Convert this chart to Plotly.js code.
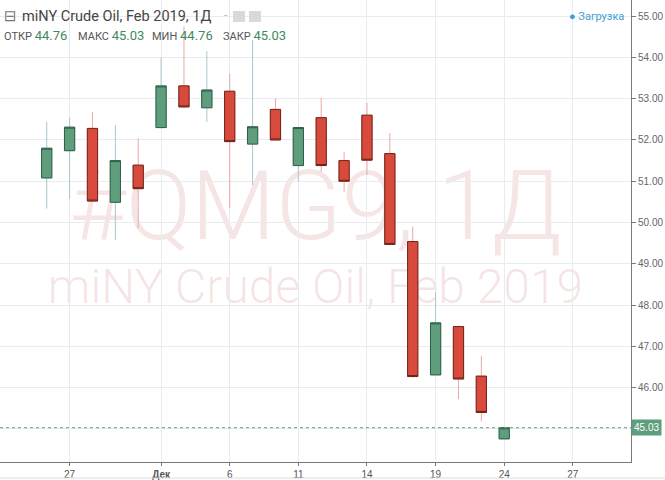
<!DOCTYPE html>
<html>
<head>
<meta charset="utf-8">
<script src="https://cdn.plot.ly/plotly-3.0.1.min.js"></script>
<style>html,body{margin:0;padding:0;background:#fff;}#chart{width:665px;height:480px;}</style>
</head>
<body>
<div id="chart"></div>
<script>
// ---- data ----
const dates = ['2018-11-26','2018-11-27','2018-11-28','2018-11-29','2018-11-30',
  '2018-12-03','2018-12-04','2018-12-05','2018-12-06','2018-12-07',
  '2018-12-10','2018-12-11','2018-12-12','2018-12-13','2018-12-14',
  '2018-12-17','2018-12-18','2018-12-19','2018-12-20','2018-12-21','2018-12-24'];
const openP  = [51.08,51.74,52.28,50.49,51.39,52.30,53.31,52.78,53.18,51.90,52.74,51.38,52.54,51.50,52.60,51.67,49.54,46.31,47.48,46.28,44.76];
const highP  = [52.44,52.54,52.68,52.36,52.04,54.00,54.75,54.15,53.61,54.42,53.01,52.32,53.02,51.71,52.90,52.17,49.90,48.32,47.50,46.77,45.03];
const lowP   = [50.34,50.57,50.50,49.58,49.87,52.28,52.77,52.44,50.35,50.91,51.98,50.99,51.23,50.74,51.15,49.45,46.24,46.30,45.72,45.18,44.76];
const closeP = [51.80,52.31,50.52,51.50,50.82,53.31,52.80,53.21,51.96,52.32,52.00,52.30,51.38,51.00,51.51,49.47,46.27,47.57,46.21,45.40,45.03];

const xTickVals = ['2018-11-27','2018-12-03','2018-12-06','2018-12-11','2018-12-14','2018-12-19','2018-12-24','2018-12-27'];
const xTickText = ['27','<b>Дек</b>','6','11','14','19','24','27'];
const yTickVals = [45,46,47,48,49,50,51,52,53,54,55];
const yTickText = ['','46.00','47.00','48.00','49.00','50.00','51.00','52.00','53.00','54.00','55.00'];

const titleText = 'miNY Crude Oil, Feb 2019, 1Д';
const watermark1 = '#QMG9, 1Д';
const watermark2 = 'miNY Crude Oil, Feb 2019';
const ohlcLabels = ['ОТКР','МАКС','МИН','ЗАКР'];
const statusText = '● Загрузка';

// ---- styles ----
const UP_FILL = '#5e9e7c', UP_LINE = '#2f5e45';
const DN_FILL = '#d84a3b', DN_LINE = '#6e2219';
const UP_WICK = '#a9c6cf', DN_WICK = '#eaa9a3';
const GRID = '#e8ecef', AXIS = '#7a7a7a';
const W = 631, H = 462;

const bodyHigh = openP.map((o, i) => Math.max(o, closeP[i]));
const bodyLow  = openP.map((o, i) => Math.min(o, closeP[i]));
const last = closeP.length - 1;

const wicks = {
  type: 'candlestick', x: dates, open: openP, high: highP, low: lowP, close: closeP,
  increasing: {line: {color: UP_WICK, width: 1}, fillcolor: 'rgba(0,0,0,0)'},
  decreasing: {line: {color: DN_WICK, width: 1}, fillcolor: 'rgba(0,0,0,0)'},
  hoverinfo: 'skip', showlegend: false
};
const bodies = {
  type: 'candlestick', x: dates, open: openP, high: bodyHigh, low: bodyLow, close: closeP,
  increasing: {line: {color: UP_LINE, width: 1}, fillcolor: UP_FILL},
  decreasing: {line: {color: DN_LINE, width: 1}, fillcolor: DN_FILL},
  hoverinfo: 'skip', showlegend: false
};

const px = v => v / W;
const py = v => 1 - v / H;

const ohlcVals = [openP[last], highP[last], lowP[last], closeP[last]];
const ohlcX = [2, 76, 150, 221];
const ohlcAnn = ohlcLabels.map((lab, i) => ({
  xref: 'paper', yref: 'paper', x: px(ohlcX[i]), y: py(35), xanchor: 'left', yanchor: 'middle',
  showarrow: false,
  text: lab + ' <span style="color:#3f8a60;font-size:13px">' + ohlcVals[i].toFixed(2) + '</span>',
  font: {family: 'Roboto, Liberation Sans, sans-serif', size: 11, color: '#555'}
}));

const layout = {
  width: 665, height: 480,
  margin: {l: 0, r: 34, t: 0, b: 18},
  paper_bgcolor: '#fff', plot_bgcolor: '#fff',
  showlegend: false, hovermode: false, boxgap: 0.36,
  xaxis: {
    type: 'date',
    range: ['2018-11-21 23:00', '2018-12-31 13:00'],
    rangebreaks: [{bounds: ['sat', 'mon']}],
    rangeslider: {visible: false},
    tickmode: 'array', tickvals: xTickVals, ticktext: xTickText,
    showgrid: true, gridcolor: GRID, gridwidth: 1,
    showline: true, linecolor: AXIS, linewidth: 1,
    ticks: 'outside', ticklen: 3, tickcolor: AXIS,
    tickfont: {family: 'Liberation Sans, Arial, sans-serif', size: 10, color: '#555'},
    zeroline: false, fixedrange: true
  },
  yaxis: {
    side: 'right',
    range: [44.20, 55.39],
    tickmode: 'array', tickvals: yTickVals, ticktext: yTickText,
    showgrid: true, gridcolor: GRID, gridwidth: 1,
    showline: true, linecolor: AXIS, linewidth: 1,
    ticks: 'outside', ticklen: 4, tickcolor: AXIS,
    tickfont: {family: 'Liberation Sans, Arial, sans-serif', size: 10, color: '#666'},
    zeroline: false, fixedrange: true
  },
  shapes: [
    {type: 'rect', xref: 'paper', yref: 'paper', x0: 0, x1: 1, y0: py(252), y1: py(146),
     line: {width: 0}, fillcolor: 'rgba(0,0,0,0)', layer: 'below',
     label: {text: watermark1, textposition: 'middle center',
             font: {family: 'Roboto, sans-serif', size: 97, weight: 300, color: 'rgba(200,115,115,0.19)'}}},
    {type: 'rect', xref: 'paper', yref: 'paper', x0: 0, x1: 1, y0: py(308), y1: py(258),
     line: {width: 0}, fillcolor: 'rgba(0,0,0,0)', layer: 'below',
     label: {text: watermark2, textposition: 'middle center',
             font: {family: 'Roboto, sans-serif', size: 48, weight: 300, color: 'rgba(200,115,115,0.19)'}}},
    {type: 'line', xref: 'paper', yref: 'y', x0: 0, x1: 1, y0: closeP[last], y1: closeP[last],
     line: {color: UP_FILL, width: 1, dash: 'dot'}, layer: 'above'},
    {type: 'rect', xref: 'paper', yref: 'paper', x0: px(233), x1: px(245), y0: py(22), y1: py(11),
     line: {width: 0}, fillcolor: '#d9d9d9'},
    {type: 'rect', xref: 'paper', yref: 'paper', x0: px(249), x1: px(261), y0: py(22), y1: py(11),
     line: {width: 0}, fillcolor: '#d9d9d9'},
    {type: 'line', xref: 'paper', yref: 'paper', x0: 0, x1: 665 / W, y0: py(478), y1: py(478),
     line: {color: '#dddddd', width: 1}}
  ],
  annotations: [
    {xref: 'paper', yref: 'paper', x: px(2), y: py(16.5), xanchor: 'left', yanchor: 'middle',
     showarrow: false, text: '⊟', font: {family: 'DejaVu Sans', size: 15, color: '#777'}},
    {xref: 'paper', yref: 'paper', x: px(20), y: py(16.5), xanchor: 'left', yanchor: 'middle',
     showarrow: false, text: titleText, font: {family: 'Roboto, Liberation Sans, sans-serif', size: 14.5, color: '#454545'}},
    {xref: 'paper', yref: 'paper', x: px(222), y: py(15), xanchor: 'left', yanchor: 'middle',
     showarrow: false, text: '-', font: {family: 'Roboto, sans-serif', size: 12, color: '#bbb'}},
    {xref: 'paper', yref: 'paper', x: px(626), y: py(16.5), xanchor: 'right', yanchor: 'middle',
     showarrow: false, text: statusText, font: {family: 'Roboto, Liberation Sans, sans-serif', size: 11, color: '#41a0d2'}},
    ...ohlcAnn,
    {xref: 'paper', yref: 'y', x: 1, y: closeP[last], xanchor: 'left', yanchor: 'middle',
     showarrow: false, text: closeP[last].toFixed(2), bgcolor: UP_FILL, borderpad: 2,
     font: {family: 'Liberation Sans, Arial, sans-serif', size: 10, color: '#fff'}}
  ]
};

Plotly.newPlot('chart', [wicks, bodies], layout, {displayModeBar: false, staticPlot: true});
</script>
</body>
</html>
